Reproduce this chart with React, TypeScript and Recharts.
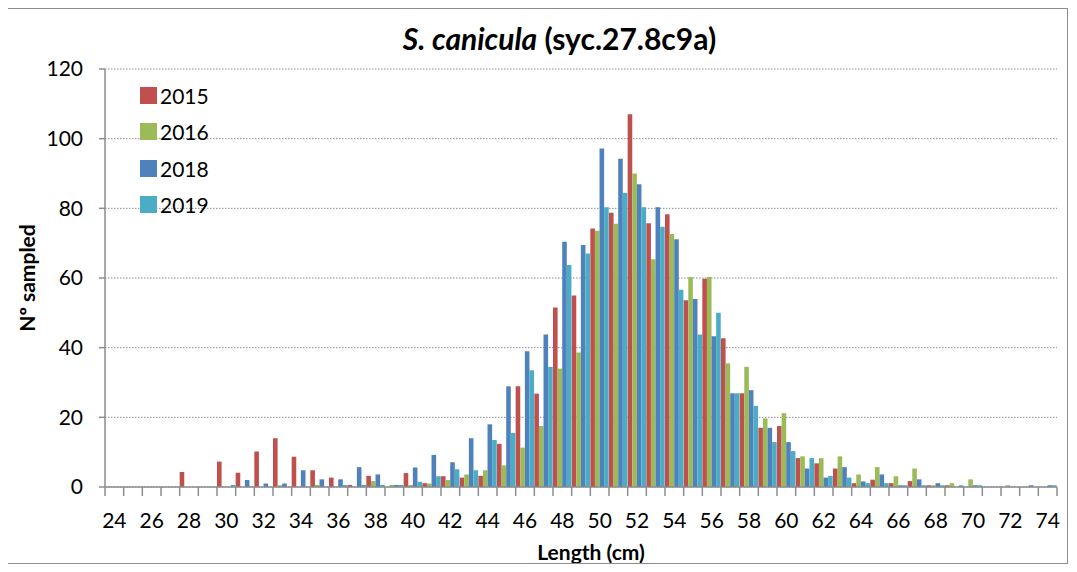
import { BarChart, Bar, XAxis, YAxis, CartesianGrid, Legend, Label } from "recharts";

const FONT = "Lato, 'Open Sans', sans-serif";
const AXIS = "#8c8c8c";

// length classes (cm)
const lengths = [
  24, 25, 26, 27, 28, 29, 30, 31, 32, 33, 34, 35, 36, 37, 38, 39, 40, 41, 42,
  43, 44, 45, 46, 47, 48, 49, 50, 51, 52, 53, 54, 55, 56, 57, 58, 59, 60, 61,
  62, 63, 64, 65, 66, 67, 68, 69, 70, 71, 72, 73, 74,
];

const labelledLengths = [
  24, 26, 28, 30, 32, 34, 36, 38, 40, 42, 44, 46, 48, 50, 52, 54, 56, 58, 60,
  62, 64, 66, 68, 70, 72, 74,
];

const yTicks = [0, 20, 40, 60, 80, 100, 120];

const y2015 = [
  0, 0, 0, 0, 4.3, 0, 7.3, 4.1, 10.2, 14, 8.7, 4.8, 2.7, 0.6, 3.2, 0, 4.0, 1.1,
  3.1, 2.7, 3.2, 12.4, 28.9, 26.8, 51.5, 55, 74.2, 78.7, 107, 75.7, 78.3, 53.6,
  59.8, 42.7, 26.9, 17, 17.5, 8.3, 6.8, 5.3, 1.1, 2.1, 1.1, 1.7, 0.5, 0.5, 0, 0,
  0, 0, 0,
];

const y2016 = [
  0, 0, 0, 0, 0, 0, 0, 0, 0, 0.5, 0, 0.6, 0, 0, 1.7, 0.6, 0.6, 1.0, 2.0, 3.6,
  4.8, 6.2, 11.3, 17.5, 34, 38.6, 73.6, 75.6, 90, 65.4, 72.6, 60.3, 60.3, 35.5,
  34.5, 19.7, 21.2, 8.8, 8.3, 8.8, 3.6, 5.7, 3.1, 5.3, 0.5, 1.1, 2.2, 0, 0.5, 0,
  0,
];

const y2018 = [
  0, 0, 0, 0, 0, 0, 0, 2.0, 1.0, 1.0, 4.8, 2.2, 2.2, 5.7, 3.6, 0.6, 5.6, 9.2,
  7.1, 14, 18, 28.9, 39, 43.8, 70.4, 69.5, 97.2, 94.2, 86.9, 80.3, 71.1, 54,
  43.3, 26.9, 27.8, 17, 12.9, 5.3, 2.7, 5.7, 1.6, 3.6, 0.5, 2.2, 1.1, 0, 0.5, 0,
  0, 0.5, 0.5,
];

const y2019 = [
  0, 0, 0, 0, 0, 0, 0.6, 0, 0, 0, 0, 0, 0.6, 0.6, 0.6, 0.6, 1.5, 3.1, 5.1, 4.8,
  13.5, 15.5, 33.5, 34.5, 63.7, 67, 80.3, 84.4, 80.3, 74.7, 56.6, 43.8, 50,
  26.9, 23.3, 12.9, 10.3, 8.3, 3.2, 2.7, 1.1, 1.1, 0.5, 0.5, 0.5, 0.5, 0.5, 0,
  0, 0, 0.5,
];

const series = [
  { key: "y2015", name: "2015", color: "#C0504D" },
  { key: "y2016", name: "2016", color: "#9BBB59" },
  { key: "y2018", name: "2018", color: "#4F81BD" },
  { key: "y2019", name: "2019", color: "#4BACC6" },
];

const data = lengths.map((len, i) => ({
  len,
  y2015: y2015[i],
  y2016: y2016[i],
  y2018: y2018[i],
  y2019: y2019[i],
}));

const W = 1061;
const H = 556;

function LengthTick(props: any) {
  const { x, y, payload, index } = props;
  const half = payload && payload.offset > 0 ? payload.offset : 9.33;
  const left = x - half;
  const right = x + half;
  return (
    <g>
      <line x1={left} x2={left} y1={y} y2={y + 9} stroke={AXIS} strokeWidth={1.5} />
      {index === lengths.length - 1 && (
        <line x1={right} x2={right} y1={y} y2={y + 9} stroke={AXIS} strokeWidth={1.5} />
      )}
      {labelledLengths.includes(payload.value) && (
        <text x={x} y={y + 41} textAnchor="middle" fontSize={21} fill="#000" fontFamily={FONT}>
          {payload.value}
        </text>
      )}
    </g>
  );
}

function YearLegend() {
  return (
    <div style={{ fontFamily: FONT, fontSize: 21, color: "#000" }}>
      {series.map((s) => (
        <div key={s.key} style={{ display: "flex", alignItems: "center", height: 36.5 }}>
          <span style={{ width: 17, height: 17, background: s.color, marginRight: 3 }} />
          <span>{s.name}</span>
        </div>
      ))}
    </div>
  );
}

export default function App() {
  return (
    <div style={{ position: "relative", width: W, height: H, fontFamily: FONT }}>
      <BarChart
        width={W}
        height={H}
        data={data}
        margin={{ top: 61, right: 12, bottom: 0, left: 0 }}
        barGap={0}
        barSize={4.6}
      >
        <CartesianGrid vertical={false} stroke={AXIS} strokeDasharray="1.5 1.5" />
        <XAxis
          dataKey="len"
          height={77}
          interval={0}
          tickSize={0}
          tickMargin={0}
          tickLine={false}
          axisLine={{ stroke: AXIS, strokeWidth: 1.5 }}
          tick={<LengthTick />}
        >
          <Label
            content={(p: any) => {
              const vb = p.viewBox;
              return (
                <text
                  x={vb.x + vb.width / 2 + 10}
                  y={vb.y + 64}
                  textAnchor="middle"
                  dominantBaseline="central"
                  fontSize={21}
                  fontWeight="bold"
                  fontFamily={FONT}
                  fill="#000"
                >
                  Length (cm)
                </text>
              );
            }}
          />
        </XAxis>
        <YAxis
          width={97}
          domain={[0, 120]}
          ticks={yTicks}
          interval={0}
          tickSize={6}
          tickMargin={16}
          axisLine={{ stroke: AXIS, strokeWidth: 1.5 }}
          tickLine={{ stroke: AXIS, strokeWidth: 1.5 }}
          tick={{ fontSize: 21, fill: "#000", fontFamily: FONT }}
        >
          <Label
            content={(p: any) => {
              const vb = p.viewBox;
              const cy = vb.y + vb.height / 2;
              return (
                <text
                  transform={`translate(18, ${cy}) rotate(-90)`}
                  textAnchor="middle"
                  dominantBaseline="central"
                  fontSize={21}
                  fontWeight="bold"
                  fontFamily={FONT}
                  fill="#000"
                >
                  Nº sampled
                </text>
              );
            }}
          />
        </YAxis>
        <Legend
          layout="vertical"
          align="center"
          verticalAlign="middle"
          content={<YearLegend />}
          wrapperStyle={{ left: 132, top: 69, width: 120, height: 150 }}
        />
        {series.map((s) => (
          <Bar key={s.key} dataKey={s.key} name={s.name} fill={s.color} isAnimationActive={false} />
        ))}
      </BarChart>
      <div
        style={{
          position: "absolute",
          left: 0,
          top: 15,
          width: W,
          textAlign: "center",
          paddingLeft: 42,
          boxSizing: "border-box",
          fontSize: 30,
          lineHeight: "30px",
          fontWeight: "bold",
          color: "#000",
          pointerEvents: "none",
        }}
      >
        <i>S. canicula</i> (syc.27.8c9a)
      </div>
      <div
        style={{
          position: "absolute",
          left: -1,
          top: 0,
          width: W,
          height: H,
          border: "1.5px solid #8c8c8c",
          boxSizing: "border-box",
          pointerEvents: "none",
        }}
      />
    </div>
  );
}
